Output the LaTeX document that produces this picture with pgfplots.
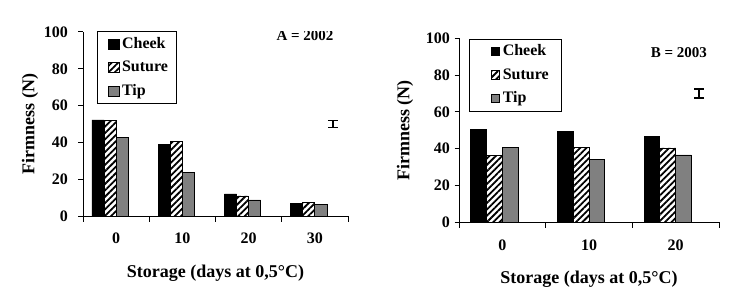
\documentclass[border=0pt]{standalone}
\usepackage{fontspec}
\setmainfont{Liberation Serif}
\usepackage{pgfplots}
\pgfplotsset{compat=1.18}
\usetikzlibrary{patterns.meta}
\definecolor{tipgray}{HTML}{808080}
\newcommand\tf{\fontsize{16bp}{18bp}\selectfont\bfseries}
\newcommand\lf{\fontsize{18bp}{20bp}\selectfont\bfseries}
\newcommand\af{\fontsize{15bp}{17bp}\selectfont\bfseries}
\pgfplotsset{
  legsqA/.style={legend image code/.code={\path (-2.6bp,0); \draw[##1] (0bp,-5bp) rectangle (11bp,5bp);}},
  legsqB/.style={legend image code/.code={\path (-9.7bp,0); \draw[##1] (0bp,-4bp) rectangle (8.5bp,4.5bp);}},
  cheek/.style={ybar, fill=black, draw=black, line width=0.8bp},
  suture/.style={ybar, draw=black, line width=0.8bp, pattern={Lines[angle=45,distance=4.5bp,line width=1.8bp]}, pattern color=black},
  tip/.style={ybar, fill=tipgray, draw=black, line width=0.8bp},
  errb/.style={forget plot, draw=none, mark=none, error bars/.cd, y dir=both, y explicit,
    error bar style={draw=black, line width=1.6bp},
    error mark options={rotate=90, draw=black, line width=1.6bp, mark size=5bp}},
  mystyle/.style={
    scale only axis, height=184bp,
    ymin=0, ymax=100, ytick={0,20,...,100},
    axis lines*=left, axis line style={line width=1bp},
    tick align=outside, major tick length=4.5bp, minor tick length=5.5bp,
    tick style={line width=1bp, black},
    major x tick style={draw=none},
    xmin=-0.5,
    tick label style={font=\tf},
    /pgf/number format/assume math mode=true,
    ylabel={Firmness (N)}, xlabel={Storage (days at 0,5°C)},
    label style={font=\lf},
    xlabel style={at={(axis description cs:0.5,-0.31)}, anchor=center},
    xticklabel style={anchor=center, yshift=-18bp},
    legend cell align=left,
    legend style={anchor=north west, draw=black, line width=0.8bp,
      inner ysep=5bp, row sep=8.5bp, font=\tf,
      /tikz/every odd column/.append style={column sep=2bp},
      nodes={inner sep=0.5bp, text height=11bp, text depth=3bp}},
  }
}
\begin{document}
\begin{tikzpicture}
\useasboundingbox (0,0) rectangle (741bp,289bp);
% Panel A
\begin{axis}[mystyle, at={(83bp,73bp)}, anchor=south west, width=265bp,
  xmax=3.5, xtick={0,1,2,3}, xticklabels={0,10,20,30},
  minor xtick={-0.5,0.5,1.5,2.5,3.5},
  ylabel style={at={(axis description cs:-0.2,0.5)}, anchor=center},
  yticklabel style={xshift=-7bp},
  legend style={at={(axis description cs:0.052,1.003)}, inner xsep=8bp},
]
\addplot[cheek, bar width=12.1bp, bar shift=-18.15bp, legsqA] coordinates {(0,52.2) (1,39.0) (2,12.0) (3,7.0)};
\addlegendentry{Cheek}
\addplot[suture, bar width=12.1bp, bar shift=-6.05bp, legsqA] coordinates {(0,52.0) (1,40.6) (2,10.9) (3,7.6)};
\addlegendentry{Suture}
\addplot[tip, bar width=12.1bp, bar shift=6.05bp, legsqA] coordinates {(0,42.8) (1,23.7) (2,8.7) (3,6.5)};
\addlegendentry{Tip}
\addplot[errb] coordinates {(3.27,50) +- (0,2)};
\node[font=\af] at (axis description cs:0.838,0.98) {A = 2002};
\end{axis}
% Panel B
\begin{axis}[mystyle, at={(459bp,66.7bp)}, anchor=south west, width=260bp,
  xmax=2.5, xtick={0,1,2}, xticklabels={0,10,20},
  minor xtick={-0.5,0.5,1.5,2.5},
  ylabel style={at={(axis description cs:-0.208,0.5)}, anchor=center},
  yticklabel style={xshift=-1bp},
  legend style={at={(axis description cs:0.038,0.997)}, inner xsep=12bp},
]
\addplot[cheek, bar width=15.8bp, bar shift=-23.7bp, legsqB] coordinates {(0,50.7) (1,49.6) (2,46.9)};
\addlegendentry{Cheek}
\addplot[suture, bar width=15.8bp, bar shift=-7.9bp, legsqB] coordinates {(0,36.4) (1,40.9) (2,40.4)};
\addlegendentry{Suture}
\addplot[tip, bar width=15.8bp, bar shift=7.9bp, legsqB] coordinates {(0,40.9) (1,34.2) (2,36.6)};
\addlegendentry{Tip}
\addplot[errb] coordinates {(2.27,70) +- (0,2.5)};
\node[font=\af] at (axis description cs:0.846,0.924) {B = 2003};
\end{axis}
\end{tikzpicture}
\end{document}
